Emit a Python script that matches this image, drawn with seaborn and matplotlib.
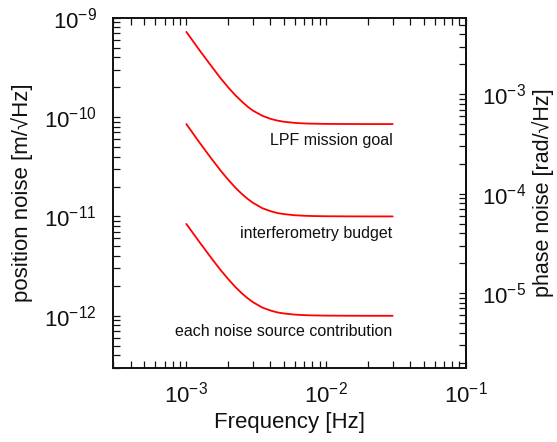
import numpy as np
import pandas as pd
import matplotlib
matplotlib.use("Agg")
import matplotlib.pyplot as plt
import seaborn as sns

# valori (frequenza in Hz, rumore in m/sqrt(Hz))
freq = [1.0e-3, 1.25e-3, 1.5e-3, 1.75e-3, 2.0e-3, 2.25e-3, 2.5e-3, 2.75e-3,
        3.0e-3, 3.5e-3, 4.0e-3, 4.5e-3, 5.0e-3, 6.0e-3, 7.0e-3, 8.0e-3,
        1.0e-2, 1.5e-2, 2.0e-2, 3.0e-2]

lpf_goal = [7.2e-10, 4.65e-10, 3.3e-10, 2.48e-10, 1.98e-10, 1.65e-10, 1.43e-10, 1.27e-10,
            1.16e-10, 1.03e-10, 9.6e-11, 9.2e-11, 8.97e-11, 8.73e-11, 8.62e-11, 8.58e-11,
            8.53e-11, 8.51e-11, 8.5e-11, 8.5e-11]

ifo_budget = [8.5e-11, 5.47e-11, 3.87e-11, 2.92e-11, 2.33e-11, 1.94e-11, 1.68e-11, 1.5e-11,
              1.37e-11, 1.21e-11, 1.13e-11, 1.08e-11, 1.055e-11, 1.027e-11, 1.015e-11, 1.009e-11,
              1.004e-11, 1.001e-11, 1.0e-11, 1.0e-11]

each_source = [8.4e-12, 5.45e-12, 3.86e-12, 2.91e-12, 2.33e-12, 1.94e-12, 1.68e-12, 1.5e-12,
               1.37e-12, 1.21e-12, 1.13e-12, 1.08e-12, 1.055e-12, 1.027e-12, 1.015e-12, 1.009e-12,
               1.004e-12, 1.001e-12, 1.0e-12, 1.0e-12]

labels = ["LPF mission goal", "interferometry budget", "each noise source contribution"]
label_y = [5.2e-11, 6.1e-12, 6.2e-13]

x_ticks = [1e-3, 1e-2, 1e-1]
y_ticks = [1e-12, 1e-11, 1e-10, 1e-9]
phase_ticks = [1e-5, 1e-4, 1e-3]

# conversione posizione -> fase (lambda = 1064 nm)
k = 2 * np.pi / 1.064e-6

sns.set_theme(style="ticks")
plt.rcParams['font.family'] = ['Liberation Sans', 'DejaVu Sans']
plt.rcParams['mathtext.fontset'] = 'custom'
plt.rcParams['mathtext.rm'] = 'Liberation Sans'
plt.rcParams['mathtext.it'] = 'Liberation Sans'
plt.rcParams['mathtext.default'] = 'regular'

fig = plt.figure(figsize=(5.57, 4.42), dpi=100, facecolor='white')
ax = fig.add_axes([0.2034, 0.168, 0.6327, 0.792])

df = pd.DataFrame({"freq": freq * 3,
                   "noise": lpf_goal + ifo_budget + each_source,
                   "curve": [labels[0]] * len(freq) + [labels[1]] * len(freq) + [labels[2]] * len(freq)})

sns.lineplot(data=df, x="freq", y="noise", hue="curve",
             palette=["#ff0000"] * 3, linewidth=1.3, legend=False, ax=ax)

ax.set_xscale('log')
ax.set_yscale('log')
ax.set_xticks(x_ticks)
ax.set_yticks(y_ticks)
ax.set_xlim(3e-4, 1e-1)
ax.set_ylim(3e-13, 1e-9)

for lab, yy in zip(labels, label_y):
    ax.text(3.0e-2, yy, lab, ha='right', va='baseline', fontsize=11.5, color='#111111')

ax.set_xlabel("Frequency [Hz]", fontsize=16, color='#111111')
ax.set_ylabel("position noise [m/\u221aHz]", fontsize=16, color='#111111')
ax.xaxis.set_label_coords(0.5, -0.127)
ax.yaxis.set_label_coords(-0.228, 0.5)

ax.tick_params(which='both', direction='in', top=True, right=False,
               length=5, width=0.9, labelsize=16, pad=10, colors='#111111')
ax.tick_params(axis='y', which='both', pad=12)

for s in ax.spines.values():
    s.set_linewidth(1.4)
    s.set_color('#111111')

sec = ax.secondary_yaxis('right', functions=(lambda y: y * k, lambda p: p / k))
sec.set_yticks(phase_ticks)
sec.tick_params(which='both', direction='in', length=5, width=0.9,
                labelsize=16, pad=12, colors='#111111')
sec.spines['right'].set_linewidth(1.4)
sec.set_ylabel("phase noise [rad/\u221aHz]", fontsize=15.5, labelpad=4, color='#111111')

plt.savefig("out.png", dpi=100)
